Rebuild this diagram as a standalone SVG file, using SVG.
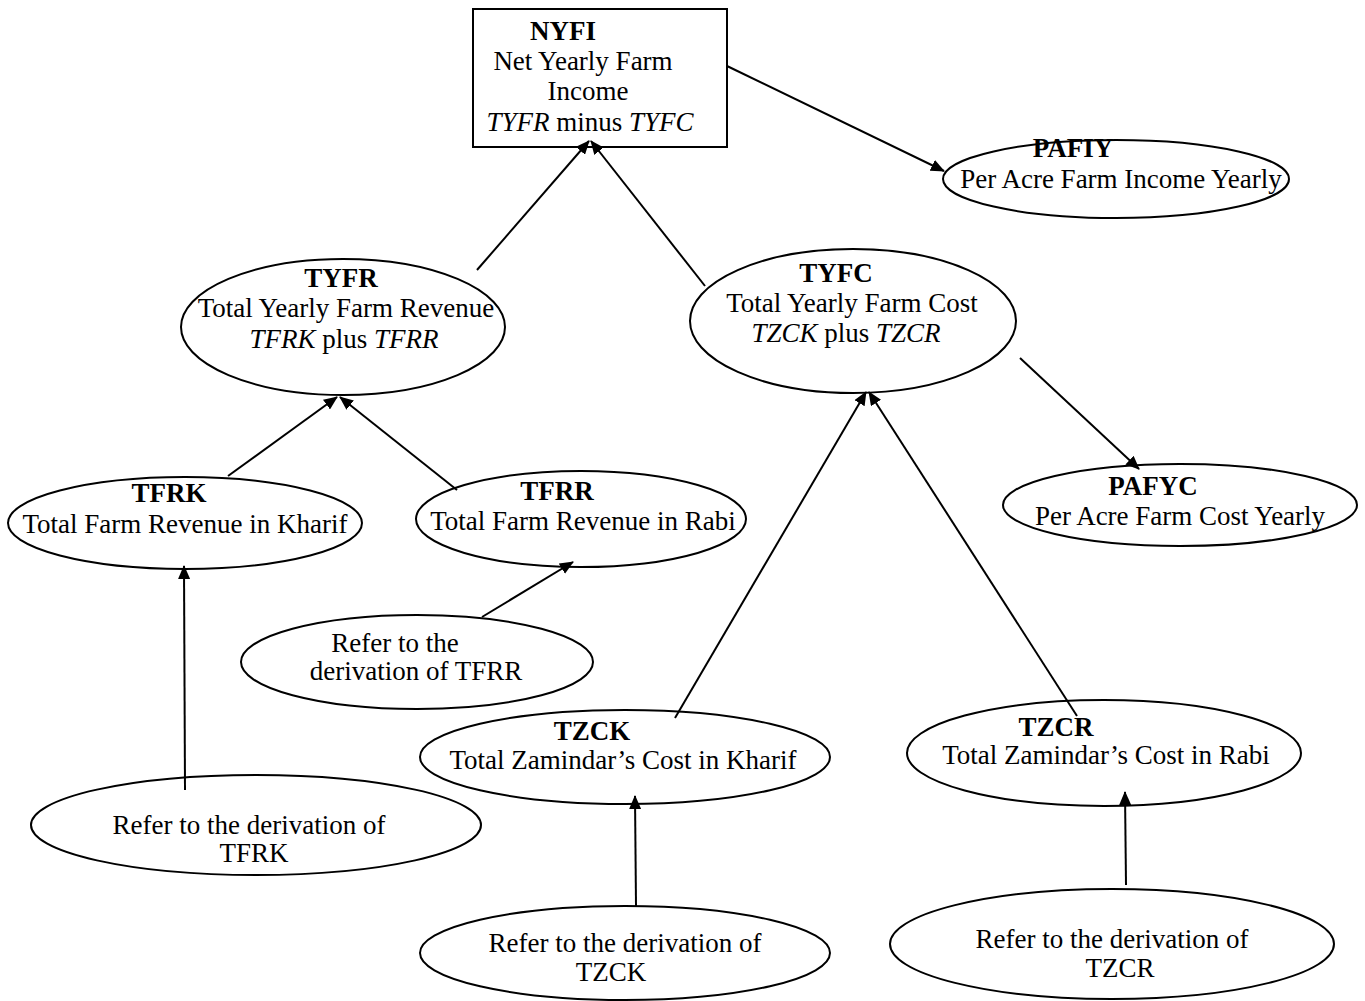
<svg xmlns="http://www.w3.org/2000/svg" width="1365" height="1001" viewBox="0 0 1365 1001">
<style>
.n{fill:#fff;stroke:#000;stroke-width:2}
text{font-family:"Liberation Serif","Times New Roman",serif;font-size:27px;fill:#000;text-anchor:middle}
.b{font-weight:bold}
.i{font-style:italic}
.c{stroke:#000;stroke-width:2;fill:none;marker-end:url(#ah)}
</style>
<defs>
<marker id="ah" markerWidth="14" markerHeight="12" refX="13" refY="6" orient="auto" markerUnits="userSpaceOnUse">
<path d="M0,0 L14,6 L0,12 Z" fill="#000"/>
</marker>
</defs>
<rect width="1365" height="1001" fill="#fff"/>
<g id="NYFI">
<rect class="n" x="473" y="9" width="254" height="138"/>
<text class="b" x="563" y="40">NYFI</text>
<text x="583" y="70">Net Yearly Farm</text>
<text x="588" y="100">Income</text>
<text x="590" y="131"><tspan class="i">TYFR</tspan> minus <tspan class="i">TYFC</tspan></text>
</g>
<g id="PAFIY">
<ellipse class="n" cx="1116" cy="179" rx="173" ry="39"/>
<text class="b" x="1073" y="157">PAFIY</text>
<text x="1121" y="188">Per Acre Farm Income Yearly</text>
</g>
<g id="TYFR">
<ellipse class="n" cx="343" cy="327" rx="162" ry="68"/>
<text class="b" x="341" y="287">TYFR</text>
<text x="346" y="317">Total Yearly Farm Revenue</text>
<text x="344" y="348"><tspan class="i">TFRK</tspan> plus <tspan class="i">TFRR</tspan></text>
</g>
<g id="TYFC">
<ellipse class="n" cx="853" cy="321" rx="163" ry="72"/>
<text class="b" x="836" y="282">TYFC</text>
<text x="852" y="312">Total Yearly Farm Cost</text>
<text x="846" y="342"><tspan class="i">TZCK</tspan> plus <tspan class="i">TZCR</tspan></text>
</g>
<g id="TFRK">
<ellipse class="n" cx="185" cy="523" rx="177" ry="46"/>
<text class="b" x="169" y="502">TFRK</text>
<text x="185" y="533">Total Farm Revenue in Kharif</text>
</g>
<g id="TFRR">
<ellipse class="n" cx="581" cy="519" rx="165" ry="48"/>
<text class="b" x="557" y="500">TFRR</text>
<text x="583" y="530">Total Farm Revenue in Rabi</text>
</g>
<g id="PAFYC">
<ellipse class="n" cx="1180" cy="505" rx="177" ry="41"/>
<text class="b" x="1153" y="495">PAFYC</text>
<text x="1180" y="525">Per Acre Farm Cost Yearly</text>
</g>
<g id="ReferTFRR">
<ellipse class="n" cx="417" cy="662" rx="176" ry="47"/>
<text x="395" y="652">Refer to  the</text>
<text x="416" y="680">derivation of  TFRR</text>
</g>
<g id="TZCK">
<ellipse class="n" cx="625" cy="757" rx="205" ry="47"/>
<text class="b" x="592" y="740">TZCK</text>
<text x="623" y="769">Total Zamindar’s Cost in Kharif</text>
</g>
<g id="TZCR">
<ellipse class="n" cx="1104" cy="753" rx="197" ry="53"/>
<text class="b" x="1056" y="736">TZCR</text>
<text x="1106" y="764">Total Zamindar’s Cost in Rabi</text>
</g>
<g id="ReferTFRK">
<ellipse class="n" cx="256" cy="825" rx="225" ry="50"/>
<text x="249" y="834">Refer to the derivation of</text>
<text x="254" y="862">TFRK</text>
</g>
<g id="ReferTZCK">
<ellipse class="n" cx="625" cy="953" rx="205" ry="47"/>
<text x="625" y="952">Refer to the derivation of</text>
<text x="611" y="981">TZCK</text>
</g>
<g id="ReferTZCR">
<ellipse class="n" cx="1112" cy="944" rx="222" ry="55"/>
<text x="1112" y="948">Refer to the derivation of</text>
<text x="1120" y="977">TZCR</text>
</g>
<g id="connectors">
<line class="c" x1="727" y1="66" x2="944" y2="171"/>
<line class="c" x1="477" y1="270" x2="589" y2="141"/>
<line class="c" x1="705" y1="286" x2="591" y2="141"/>
<line class="c" x1="228" y1="476" x2="337" y2="397"/>
<line class="c" x1="457" y1="490" x2="340" y2="397"/>
<line class="c" x1="1020" y1="358" x2="1139" y2="469"/>
<line class="c" x1="675" y1="718" x2="866" y2="392"/>
<line class="c" x1="1077" y1="716" x2="869" y2="392"/>
<line class="c" x1="185" y1="790" x2="184" y2="566"/>
<line class="c" x1="482" y1="617" x2="573" y2="562"/>
<line class="c" x1="636" y1="906" x2="635" y2="796"/>
<line class="c" x1="1126" y1="885" x2="1125" y2="792"/>
</g>
</svg>
